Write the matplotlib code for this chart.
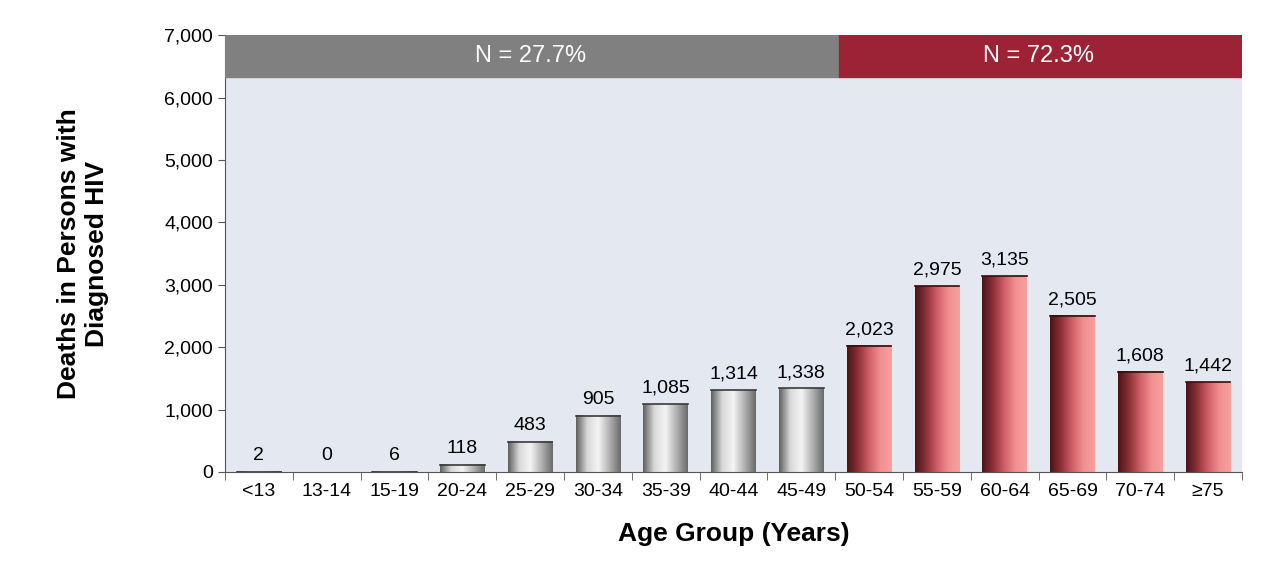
import matplotlib
matplotlib.use("Agg")
import matplotlib.pyplot as plt
import numpy as np
from matplotlib.colors import LinearSegmentedColormap

plt.rcParams["font.family"] = ["Liberation Sans", "DejaVu Sans"]

ages = ["<13", "13-14", "15-19", "20-24", "25-29", "30-34", "35-39", "40-44",
        "45-49", "50-54", "55-59", "60-64", "65-69", "70-74", "\u226575"]
deaths = [2, 0, 6, 118, 483, 905, 1085, 1314, 1338,
          2023, 2975, 3135, 2505, 1608, 1442]
older = [False] * 9 + [True] * 6
share_young = "N = 27.7%"
share_old = "N = 72.3%"

grey_cm = LinearSegmentedColormap.from_list(
    "g", ["#5e5e5e", "#d8d8d8", "#f4f4f4", "#b0b0b0", "#6a6a6a"])
red_cm = LinearSegmentedColormap.from_list(
    "r", ["#4a1418", "#8e3038", "#d06068", "#f29090", "#f6a0a0"])

fig = plt.figure(figsize=(12.8, 5.77), dpi=100)
ax = fig.add_axes([0.1758, 0.182, 0.7945, 0.757])
ax.set_facecolor("#E4E8F0")
x = np.arange(len(ages))
w = 0.66
grad = np.linspace(0, 1, 256).reshape(1, -1)
for xi, v, old in zip(x, deaths, older):
    if v <= 0:
        continue
    cm = red_cm if old else grey_cm
    ax.imshow(grad, cmap=cm, aspect="auto", extent=[xi - w / 2, xi + w / 2, 0, v],
              zorder=2)
    ax.plot([xi - w / 2, xi + w / 2], [v, v], color="#3a3a3a" if not old else "#3a0a0e",
            lw=1.2, zorder=3)
    ax.text(xi, v + 120, f"{v:,}", ha="center", va="bottom", fontsize=14, zorder=4)
for xi, v in zip(x, deaths):
    if v <= 0:
        ax.text(xi, 120, f"{v:,}", ha="center", va="bottom", fontsize=14)

split = 8.5
ax.axhspan(6330, 7000, xmin=0, xmax=(split + 0.55) / len(ages), color="#808080", zorder=3)
ax.axhspan(6330, 7000, xmin=(split + 0.55) / len(ages), xmax=1, color="#9B2335", zorder=3)
ax.text((split - 0.5) / 2, 6665, share_young, ha="center", va="center",
        color="white", fontsize=17, zorder=4)
ax.text((split + len(ages) - 0.5) / 2, 6665, share_old, ha="center", va="center",
        color="white", fontsize=17, zorder=4)

ax.set_xlim(-0.5, len(ages) - 0.5)
ax.set_ylim(0, 7000)
ax.set_yticks(range(0, 7001, 1000))
ax.set_yticklabels([f"{t:,}" for t in range(0, 7001, 1000)], fontsize=14)
ax.set_xticks(x)
ax.set_xticklabels(ages, fontsize=14)
ax.set_xticks(np.arange(-0.5, len(ages), 1), minor=True)
ax.tick_params(axis="x", which="major", length=0, pad=8)
ax.tick_params(axis="x", which="minor", length=6, color="#555555")
ax.tick_params(axis="y", length=5, color="#555555")
for s in ["top", "right"]:
    ax.spines[s].set_visible(False)
for s in ["left", "bottom"]:
    ax.spines[s].set_color("#555555")
ax.set_xlabel("Age Group (Years)", fontsize=19, fontweight="bold", labelpad=16)
ax.set_ylabel("Deaths in Persons with\nDiagnosed HIV", fontsize=19,
              fontweight="bold", labelpad=40)
fig.savefig("out.png", dpi=100)
